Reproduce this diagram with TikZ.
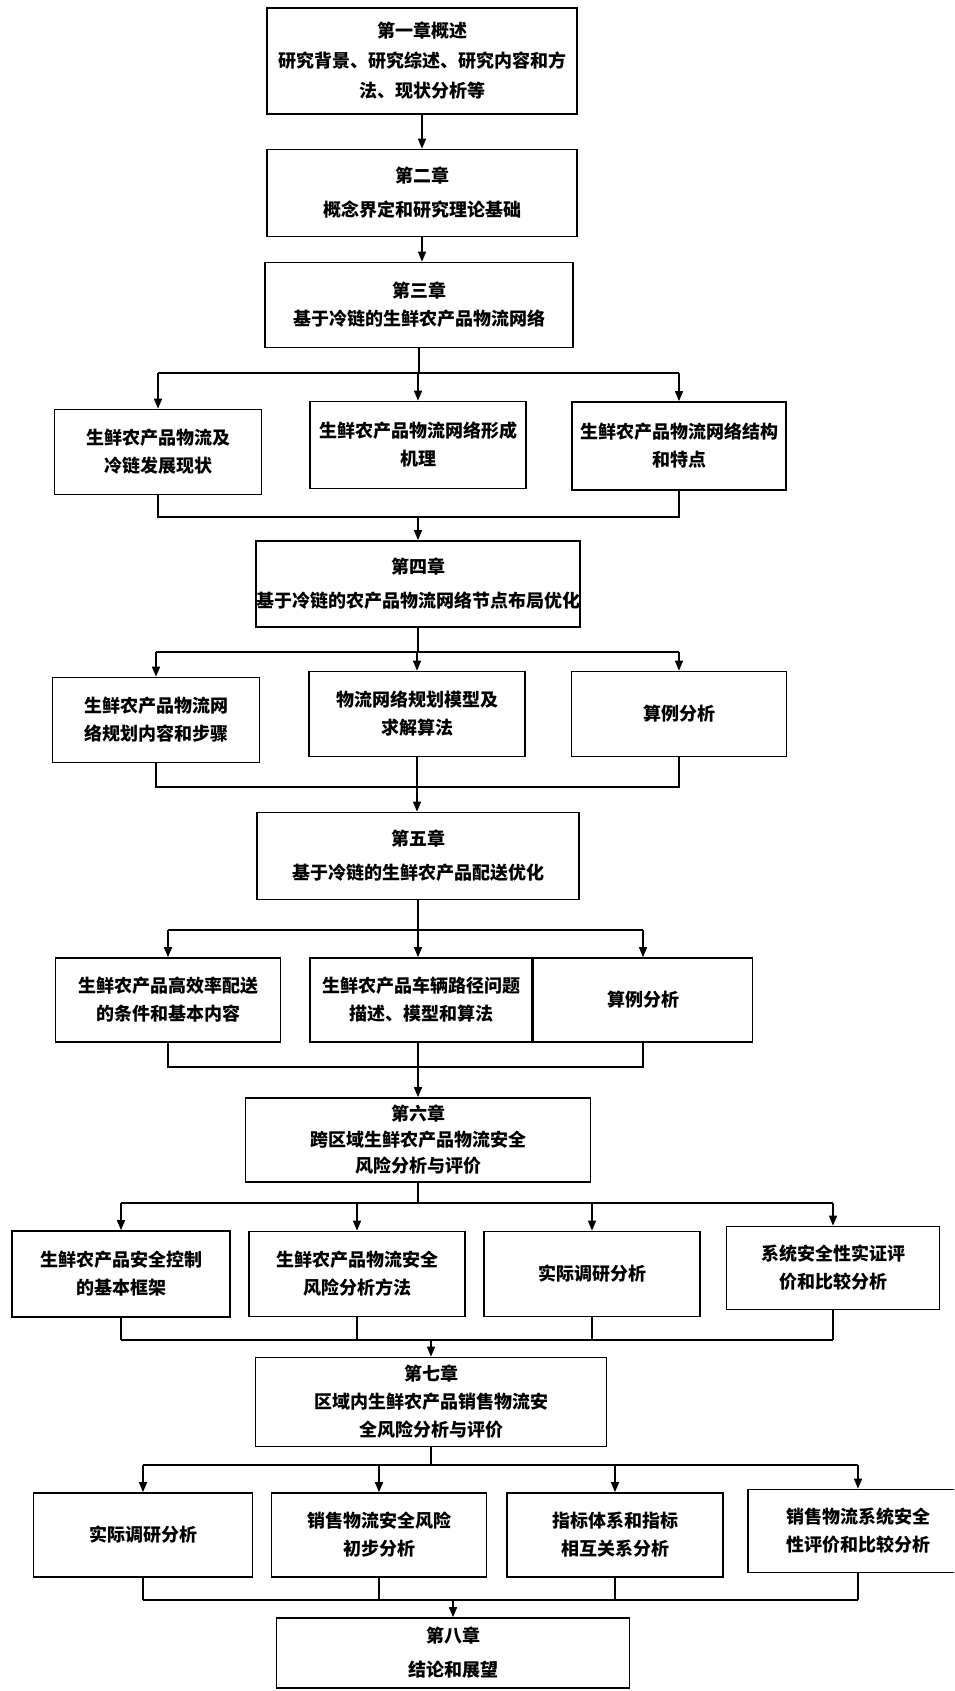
\documentclass[tikz,border=0pt]{standalone}
\usepackage{fontspec}
\setmainfont{Noto Sans CJK SC}
\usetikzlibrary{arrows.meta}
\newcommand\fsz{\fontsize{18pt}{28pt}\selectfont\bfseries}
\tikzset{
  box/.style={draw, line width=1.7pt, rectangle, inner sep=0pt, align=center, font=\fsz},
  ln/.style={line width=1.5pt},
  arr/.style={line width=1.5pt, -{Triangle[length=10pt,width=8pt]}},
}
\begin{document}
\begin{tikzpicture}[x=1pt,y=-1pt]
\useasboundingbox (0,0) rectangle (954,1691);
\clip (0,0) rectangle (954,1691);
% chapter 1-3
\node[box, minimum width=310pt, minimum height=106pt] (ch1) at (422,61) {第一章概述\\[2pt]研究背景、研究综述、研究内容和方\\[2pt]法、现状分析等};
\node[box, minimum width=310pt, minimum height=87pt] (ch2) at (422,193) {第二章\\[6pt]概念界定和研究理论基础};
\node[box, minimum width=308pt, minimum height=85pt] (ch3) at (419,305) {第三章\\基于冷链的生鲜农产品物流网络};
% row A
\node[box, minimum width=207pt, minimum height=85pt] (a1) at (158,452) {生鲜农产品物流及\\冷链发展现状};
\node[box, minimum width=216pt, minimum height=87pt] (a2) at (418,445) {生鲜农产品物流网络形成\\机理};
\node[box, minimum width=214pt, minimum height=88pt] (a3) at (679,446) {生鲜农产品物流网络结构\\和特点};
% chapter 4
\node[box, minimum width=322pt, minimum height=86pt] (ch4) at (418,584) {第四章\\[6pt]基于冷链的农产品物流网络节点布局优化};
% row B
\node[box, minimum width=207pt, minimum height=85pt] (b1) at (156,720) {生鲜农产品物流网\\络规划内容和步骤};
\node[box, minimum width=216pt, minimum height=85pt] (b2) at (417,714) {物流网络规划模型及\\求解算法};
\node[box, minimum width=215pt, minimum height=85pt] (b3) at (679,714) {算例分析};
% chapter 5
\node[box, minimum width=322pt, minimum height=87pt] (ch5) at (418,856) {第五章\\[6pt]基于冷链的生鲜农产品配送优化};
% row C
\node[box, minimum width=225pt, minimum height=84pt] (c1) at (168,1000) {生鲜农产品高效率配送\\的条件和基本内容};
\node[box, minimum width=222pt, minimum height=84pt] (c2) at (421,1000) {生鲜农产品车辆路径问题\\描述、模型和算法};
\node[box, minimum width=219pt, minimum height=84pt] (c3) at (643,1000) {算例分析};
% chapter 6
\node[box, minimum width=345pt, minimum height=84pt] (ch6) at (418,1140) {第六章\\[-2pt]跨区域生鲜农产品物流安全\\[-2pt]风险分析与评价};
% row D
\node[box, minimum width=218pt, minimum height=86pt] (d1) at (121,1274) {生鲜农产品安全控制\\的基本框架};
\node[box, minimum width=216pt, minimum height=85pt] (d2) at (357,1274) {生鲜农产品物流安全\\风险分析方法};
\node[box, minimum width=216pt, minimum height=85pt] (d3) at (592,1274) {实际调研分析};
\node[box, minimum width=213pt, minimum height=83pt] (d4) at (833,1268) {系统安全性实证评\\价和比较分析};
% chapter 7
\node[box, minimum width=351pt, minimum height=89pt] (ch7) at (431,1402) {第七章\\区域内生鲜农产品销售物流安\\全风险分析与评价};
% row E
\node[box, minimum width=219pt, minimum height=84pt] (e1) at (143,1535) {实际调研分析};
\node[box, minimum width=215pt, minimum height=84pt] (e2) at (379,1535) {销售物流安全风险\\初步分析};
\node[box, minimum width=216pt, minimum height=84pt] (e3) at (615,1535) {指标体系和指标\\相互关系分析};
\node[box, minimum width=220pt, minimum height=83pt] (e4) at (858,1531) {销售物流系统安全\\性评价和比较分析};
% chapter 8
\node[box, minimum width=353pt, minimum height=70pt] (ch8) at (453,1653) {第八章\\[6pt]结论和展望};

% junction coordinates
\coordinate (j1) at (419,373);
\coordinate (j2) at (418,517);
\coordinate (j3) at (418,652);
\coordinate (j4) at (417,787);
\coordinate (j5) at (418,930);
\coordinate (j6) at (418,1067);
\coordinate (j7) at (418,1203);
\coordinate (j8) at (431,1340);
\coordinate (j9) at (431,1465);
\coordinate (j10) at (453,1600);

% connectors ch1-ch3
\draw[arr] (ch1.south) -- (ch2.north);
\draw[arr] (ch2.south) -- (ch2.south |- ch3.north);
% ch3 to row A
\draw[ln] (ch3.south) -- (j1);
\draw[ln] (a1.north |- j1) -- (a3.north |- j1);
\draw[arr] (a1.north |- j1) -- (a1.north);
\draw[arr] (a2.north |- j1) -- (a2.north);
\draw[arr] (a3.north |- j1) -- (a3.north);
% row A to ch4
\draw[ln] (a1.south) -- (a1.south |- j2) -- (a3.south |- j2) -- (a3.south);
\draw[arr] (j2) -- (ch4.north);
% ch4 to row B
\draw[ln] (ch4.south) -- (j3);
\draw[ln] (b1.north |- j3) -- (b3.north |- j3);
\draw[arr] (b1.north |- j3) -- (b1.north);
\draw[arr] (b2.north |- j3) -- (b2.north);
\draw[arr] (b3.north |- j3) -- (b3.north);
% row B to ch5
\draw[ln] (b1.south) -- (b1.south |- j4) -- (b3.south |- j4) -- (b3.south);
\draw[ln] (b2.south) -- (j4);
\draw[arr] (j4) -- (j4 |- ch5.north);
% ch5 to row C
\draw[arr] (ch5.south) -- (ch5.south |- c2.north);
\draw[ln] (c1.north |- j5) -- (c3.north |- j5);
\draw[arr] (c1.north |- j5) -- (c1.north);
\draw[arr] (c3.north |- j5) -- (c3.north);
% row C to ch6
\draw[ln] (c1.south) -- (c1.south |- j6) -- (c3.south |- j6) -- (c3.south);
\draw[ln] (c2.south -| j6) -- (j6);
\draw[arr] (j6) -- (ch6.north);
% ch6 to row D
\draw[ln] (ch6.south) -- (j7);
\draw[ln] (d1.north |- j7) -- (d4.north |- j7);
\draw[arr] (d1.north |- j7) -- (d1.north);
\draw[arr] (d2.north |- j7) -- (d2.north);
\draw[arr] (d3.north |- j7) -- (d3.north);
\draw[arr] (d4.north |- j7) -- (d4.north);
% row D to ch7
\draw[ln] (d1.south) -- (d1.south |- j8);
\draw[ln] (d2.south) -- (d2.south |- j8);
\draw[ln] (d3.south) -- (d3.south |- j8);
\draw[ln] (d4.south) -- (d4.south |- j8);
\draw[ln] (d1.south |- j8) -- (d4.south |- j8);
\draw[arr] (j8) -- (ch7.north);
% ch7 to row E
\draw[ln] (ch7.south) -- (j9);
\draw[ln] (e1.north |- j9) -- (e4.north |- j9);
\draw[arr] (e1.north |- j9) -- (e1.north);
\draw[arr] (e2.north |- j9) -- (e2.north);
\draw[arr] (e3.north |- j9) -- (e3.north);
\draw[arr] (e4.north |- j9) -- (e4.north);
% row E to ch8
\draw[ln] (e1.south) -- (e1.south |- j10);
\draw[ln] (e2.south) -- (e2.south |- j10);
\draw[ln] (e3.south) -- (e3.south |- j10);
\draw[ln] (e4.south) -- (e4.south |- j10);
\draw[ln] (e1.south |- j10) -- (e4.south |- j10);
\draw[arr] (j10) -- (ch8.north);
\end{tikzpicture}
\end{document}
